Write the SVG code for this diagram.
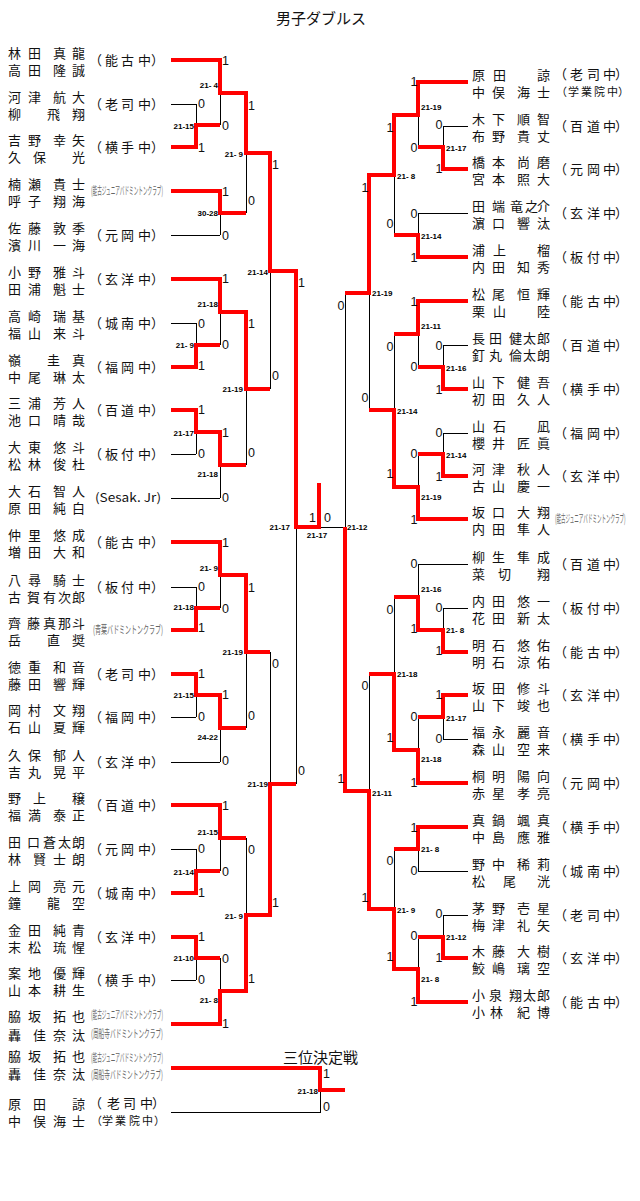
<svg xmlns="http://www.w3.org/2000/svg" width="640" height="1201" viewBox="0 0 640 1201">
<style>
text{font-family:"Noto Sans CJK JP","Noto Sans CJK SC",sans-serif;fill:#111}
.nm{font-size:13px}
.sc{font-size:13px}
.sc2{font-size:11px}
.sm{font-size:11px;fill:#666}
.pt{font-family:"Liberation Sans",Arial,sans-serif;font-size:12.5px}
.pr{font-family:"Liberation Sans",Arial,sans-serif;font-size:12.5px;text-anchor:end}
.sr{font-family:"Liberation Sans",Arial,sans-serif;font-size:8px;font-weight:bold;fill:#000}
.se{text-anchor:end}
.bk{stroke:#000;stroke-width:1;fill:none;shape-rendering:crispEdges}
.rd{stroke:#f00;stroke-width:4;fill:none;stroke-linejoin:miter;shape-rendering:crispEdges}
.ttl{font-size:15px}
</style>
<rect width="640" height="1201" fill="#fff"/>
<text class="ttl" x="276" y="24">男子ダブルス</text>
<text class="ttl" x="283" y="1063">三位決定戦</text>

<g id="connectors">
<path class="bk" d="M171 104H196M171 235H220M171 323H196M171 454H196M171 498H220M171 587H196M171 717H196M171 762H220M171 849H196M171 980H196
M196 104V147M220 60V125M220 191V235M246 93V213M196 323V367M220 279V345M196 410V454M220 432V498M246 312V465M270 153V389M196 587V630M220 542V608M196 674V717M220 695V762M246 575V728M196 849V893M220 805V871M196 937V980M220 958V1024M246 838V991M270 652V915M296 271V784
M296 527H345
M468 126H443M468 213H418M468 345H443M468 433H443M468 564H418M468 608H443M468 739H443M468 871H418M468 915H443
M443 126V169M418 82V147M418 213V257M394 115V235M443 345V389M418 301V367M443 433V476M418 454V519M394 334V487M369 175V410M443 608V652M418 564V630M443 695V739M418 717V783M394 597V750M418 827V871M443 915V958M418 937V1002M394 849V969M369 674V909M345 293V791
M171 1112H320V1090"/>
<path class="rd" d="M171 60H220V93H246V153H270V271H296V527H319V483
M171 147H196V125H220
M171 191H220V213H246
M171 279H220V312H246V389H270
M171 367H196V345H220
M171 410H196V432H220V465H246
M171 542H220V575H246V652H270
M171 630H196V608H220
M171 674H196V695H220V728H246
M171 805H220V838H246
M171 893H196V871H220
M171 937H196V958H220
M171 1024H220V991H246V915H270V784H296
M468 82H418V115H394V175H369V293H345
M468 169H443V147H418
M468 257H418V235H394
M468 301H418V334H394
M468 389H443V367H418
M468 476H443V454H418
M468 519H418V487H394V410H369
M468 652H443V630H418V597H394
M468 695H443V717H418
M468 783H418V750H394V674H369
M468 827H418V849H394
M468 958H443V937H418
M468 1002H418V969H394V909H369V791H345V527
M171 1068H320V1090H345"/>
</g>

<g id="scores">
<text class="sr se" x="194" y="129">21-15</text>
<text class="sr se" x="218" y="88">21- 4</text>
<text class="sr se" x="218" y="216">30-28</text>
<text class="sr se" x="243" y="157">21- 9</text>
<text class="sr se" x="194" y="348">21- 9</text>
<text class="sr se" x="218" y="307">21-18</text>
<text class="sr se" x="194" y="436">21-17</text>
<text class="sr se" x="218" y="477">21-18</text>
<text class="sr se" x="243" y="392">21-19</text>
<text class="sr se" x="268" y="275">21-14</text>
<text class="sr se" x="194" y="610">21-18</text>
<text class="sr se" x="218" y="571">21- 9</text>
<text class="sr se" x="194" y="698">21-15</text>
<text class="sr se" x="218" y="740">24-22</text>
<text class="sr se" x="243" y="655">21-19</text>
<text class="sr se" x="194" y="875">21-14</text>
<text class="sr se" x="218" y="835">21-15</text>
<text class="sr se" x="194" y="961">21-10</text>
<text class="sr se" x="218" y="1003">21- 8</text>
<text class="sr se" x="243" y="919">21- 9</text>
<text class="sr se" x="268" y="787">21-19</text>
<text class="sr se" x="290" y="530">21-17</text>
<text class="sr" x="317" y="538" text-anchor="middle">21-17</text>
<text class="sr se" x="318" y="1094">21-18</text>
<text class="sr" x="446" y="151">21-17</text>
<text class="sr" x="421" y="110">21-19</text>
<text class="sr" x="421" y="239">21-14</text>
<text class="sr" x="397" y="179">21- 8</text>
<text class="sr" x="446" y="371">21-16</text>
<text class="sr" x="421" y="329">21-11</text>
<text class="sr" x="446" y="458">21-14</text>
<text class="sr" x="421" y="500">21-19</text>
<text class="sr" x="397" y="414">21-14</text>
<text class="sr" x="372" y="296">21-19</text>
<text class="sr" x="446" y="633">21- 8</text>
<text class="sr" x="421" y="592">21-16</text>
<text class="sr" x="446" y="721">21-17</text>
<text class="sr" x="421" y="762">21-18</text>
<text class="sr" x="397" y="677">21-18</text>
<text class="sr" x="421" y="852">21- 8</text>
<text class="sr" x="446" y="940">21-12</text>
<text class="sr" x="421" y="982">21- 8</text>
<text class="sr" x="397" y="913">21- 9</text>
<text class="sr" x="372" y="796">21-11</text>
<text class="sr" x="347" y="530">21-12</text>
</g>

<g id="results">
<text class="pt" x="198" y="107.5">0</text><text class="pt" x="198" y="151.5">1</text>
<text class="pt" x="198" y="327.5">0</text><text class="pt" x="198" y="369.5">1</text>
<text class="pt" x="198" y="413.5">1</text><text class="pt" x="198" y="457.5">0</text>
<text class="pt" x="198" y="590.5">0</text><text class="pt" x="198" y="631.5">1</text>
<text class="pt" x="198" y="677.5">1</text><text class="pt" x="198" y="720.5">0</text>
<text class="pt" x="198" y="852.5">0</text><text class="pt" x="198" y="896.5">1</text>
<text class="pt" x="198" y="940.5">1</text><text class="pt" x="198" y="983.5">0</text>
<text class="pt" x="222" y="64.5">1</text><text class="pt" x="222" y="129.5">0</text>
<text class="pt" x="222" y="195.5">1</text><text class="pt" x="222" y="239.5">0</text>
<text class="pt" x="222" y="282.5">1</text><text class="pt" x="222" y="348.5">0</text>
<text class="pt" x="222" y="436.5">1</text><text class="pt" x="222" y="501.5">0</text>
<text class="pt" x="222" y="546.5">1</text><text class="pt" x="222" y="612.5">0</text>
<text class="pt" x="222" y="698.5">1</text><text class="pt" x="222" y="764.5">0</text>
<text class="pt" x="222" y="809.5">1</text><text class="pt" x="222" y="875.5">0</text>
<text class="pt" x="222" y="962.5">0</text><text class="pt" x="222" y="1027.5">1</text>
<text class="pt" x="248" y="109.5">1</text><text class="pt" x="248" y="204.5">0</text>
<text class="pt" x="248" y="327.5">1</text><text class="pt" x="248" y="456.5">0</text>
<text class="pt" x="248" y="591.5">1</text><text class="pt" x="248" y="719.5">0</text>
<text class="pt" x="248" y="853.5">0</text><text class="pt" x="248" y="982.5">1</text>
<text class="pt" x="272" y="168.5">1</text><text class="pt" x="272" y="379.5">0</text>
<text class="pt" x="272" y="667.5">0</text><text class="pt" x="272" y="906.5">1</text>
<text class="pt" x="298" y="286.5">1</text><text class="pt" x="298" y="774.5">0</text>
<text class="pr" x="316" y="521.5">1</text><text class="pt" x="324" y="521.5">0</text>
<text class="pt" x="323" y="1077.5">1</text><text class="pt" x="323" y="1110.5">0</text>
<text class="pr" x="442.5" y="128.5">0</text><text class="pr" x="442.5" y="172.5">1</text>
<text class="pr" x="442.5" y="349.5">0</text><text class="pr" x="442.5" y="393.5">1</text>
<text class="pr" x="442.5" y="436.5">0</text><text class="pr" x="442.5" y="480.5">1</text>
<text class="pr" x="442.5" y="611.5">0</text><text class="pr" x="442.5" y="654.5">1</text>
<text class="pr" x="442.5" y="698.5">1</text><text class="pr" x="442.5" y="742.5">0</text>
<text class="pr" x="442.5" y="917.5">0</text><text class="pr" x="442.5" y="961.5">1</text>
<text class="pr" x="417.5" y="85.5">1</text><text class="pr" x="417.5" y="151.5">0</text>
<text class="pr" x="417.5" y="217.5">0</text><text class="pr" x="417.5" y="261.5">1</text>
<text class="pr" x="417.5" y="305.5">1</text><text class="pr" x="417.5" y="370.5">0</text>
<text class="pr" x="417.5" y="457.5">0</text><text class="pr" x="417.5" y="523.5">1</text>
<text class="pr" x="417.5" y="567.5">0</text><text class="pr" x="417.5" y="632.5">1</text>
<text class="pr" x="417.5" y="720.5">0</text><text class="pr" x="417.5" y="786.5">1</text>
<text class="pr" x="417.5" y="831.5">1</text><text class="pr" x="417.5" y="874.5">0</text>
<text class="pr" x="417.5" y="939.5">0</text><text class="pr" x="417.5" y="1005.5">1</text>
<text class="pr" x="393.5" y="131.5">1</text><text class="pr" x="393.5" y="227.5">0</text>
<text class="pr" x="393.5" y="350.5">0</text><text class="pr" x="393.5" y="477.5">1</text>
<text class="pr" x="393.5" y="613.5">0</text><text class="pr" x="393.5" y="741.5">1</text>
<text class="pr" x="393.5" y="864.5">0</text><text class="pr" x="393.5" y="960.5">1</text>
<text class="pr" x="368.5" y="191.5">1</text><text class="pr" x="368.5" y="401.5">0</text>
<text class="pr" x="368.5" y="689.5">0</text><text class="pr" x="368.5" y="901.5">1</text>
<text class="pr" x="344.5" y="309.5">0</text><text class="pr" x="344.5" y="782.5">1</text>
</g>

<g id="team-L01"><text class="nm" x="8 28 53 72" y="58">林田真龍</text><text class="nm" x="8 28 53 72" y="75">高田隆誠</text><text class="sc" x="89 105 121 138 151" y="65">（能古中）</text></g>
<g id="team-L02"><text class="nm" x="8 28 53 72" y="102">河津航大</text><text class="nm" x="8 47 72" y="119">柳飛翔</text><text class="sc" x="89 105 121 138 151" y="109">（老司中）</text></g>
<g id="team-L03"><text class="nm" x="8 28 53 72" y="145">吉野幸矢</text><text class="nm" x="8 33 72" y="162">久保光</text><text class="sc" x="89 105 121 138 151" y="152">（横手中）</text></g>
<g id="team-L04"><text class="nm" x="8 28 53 72" y="189">楠瀬貴士</text><text class="nm" x="8 28 53 72" y="206">呼子翔海</text><text class="sm" transform="translate(91 195) scale(0.45 1)" textLength="160" lengthAdjust="spacingAndGlyphs">(能古ジュニアバドミントンクラブ)</text></g>
<g id="team-L05"><text class="nm" x="8 28 53 72" y="233">佐藤敦季</text><text class="nm" x="8 28 53 72" y="250">濱川一海</text><text class="sc" x="89 105 121 138 151" y="240">（元岡中）</text></g>
<g id="team-L06"><text class="nm" x="8 28 53 72" y="277">小野雅斗</text><text class="nm" x="8 28 53 72" y="294">田浦魁士</text><text class="sc" x="89 105 121 138 151" y="284">（玄洋中）</text></g>
<g id="team-L07"><text class="nm" x="8 28 53 72" y="321">高崎瑞基</text><text class="nm" x="8 28 53 72" y="338">福山来斗</text><text class="sc" x="89 105 121 138 151" y="328">（城南中）</text></g>
<g id="team-L08"><text class="nm" x="8 47 72" y="365">嶺圭真</text><text class="nm" x="8 28 53 72" y="382">中尾琳太</text><text class="sc" x="89 105 121 138 151" y="372">（福岡中）</text></g>
<g id="team-L09"><text class="nm" x="8 28 53 72" y="408">三浦芳人</text><text class="nm" x="8 28 53 72" y="425">池口晴哉</text><text class="sc" x="89 105 121 138 151" y="415">（百道中）</text></g>
<g id="team-L10"><text class="nm" x="8 28 53 72" y="452">大東悠斗</text><text class="nm" x="8 28 53 72" y="469">松林俊杜</text><text class="sc" x="89 105 121 138 151" y="459">（板付中）</text></g>
<g id="team-L11"><text class="nm" x="8 28 53 72" y="496">大石智人</text><text class="nm" x="8 28 53 72" y="513">原田純白</text><text x="95" y="502" font-family="Liberation Serif" font-size="12" fill="#556" textLength="66" lengthAdjust="spacingAndGlyphs">(Sesak. Jr)</text></g>
<g id="team-L12"><text class="nm" x="8 28 53 72" y="540">仲里悠成</text><text class="nm" x="8 28 53 72" y="557">増田大和</text><text class="sc" x="89 105 121 138 151" y="547">（能古中）</text></g>
<g id="team-L13"><text class="nm" x="8 28 53 72" y="585">八尋騎士</text><text class="nm" x="8 27 43 58 72" y="602">古賀有次郎</text><text class="sc" x="89 105 121 138 151" y="592">（板付中）</text></g>
<g id="team-L14"><text class="nm" x="8 27 43 58 72" y="628">齊藤真那斗</text><text class="nm" x="8 47 72" y="645">岳直奨</text><text class="sm" transform="translate(93 634) scale(0.5 1)" textLength="140" lengthAdjust="spacingAndGlyphs">(青葉バドミントンクラブ)</text></g>
<g id="team-L15"><text class="nm" x="8 28 53 72" y="672">徳重和音</text><text class="nm" x="8 28 53 72" y="689">藤田響輝</text><text class="sc" x="89 105 121 138 151" y="679">（老司中）</text></g>
<g id="team-L16"><text class="nm" x="8 28 53 72" y="715">岡村文翔</text><text class="nm" x="8 28 53 72" y="732">石山夏輝</text><text class="sc" x="89 105 121 138 151" y="722">（福岡中）</text></g>
<g id="team-L17"><text class="nm" x="8 28 53 72" y="760">久保郁人</text><text class="nm" x="8 28 53 72" y="777">吉丸晃平</text><text class="sc" x="89 105 121 138 151" y="767">（玄洋中）</text></g>
<g id="team-L18"><text class="nm" x="8 33 72" y="803">野上穣</text><text class="nm" x="8 28 53 72" y="820">福満泰正</text><text class="sc" x="89 105 121 138 151" y="810">（百道中）</text></g>
<g id="team-L19"><text class="nm" x="8 27 43 58 72" y="847">田口蒼太朗</text><text class="nm" x="8 33 53 72" y="864">林賢士朗</text><text class="sc" x="89 105 121 138 151" y="854">（元岡中）</text></g>
<g id="team-L20"><text class="nm" x="8 28 53 72" y="891">上岡亮元</text><text class="nm" x="8 47 72" y="908">鐘龍空</text><text class="sc" x="89 105 121 138 151" y="898">（城南中）</text></g>
<g id="team-L21"><text class="nm" x="8 28 53 72" y="935">金田純青</text><text class="nm" x="8 28 53 72" y="952">末松琉惺</text><text class="sc" x="89 105 121 138 151" y="942">（玄洋中）</text></g>
<g id="team-L22"><text class="nm" x="8 28 53 72" y="978">案地優輝</text><text class="nm" x="8 28 53 72" y="995">山本耕生</text><text class="sc" x="89 105 121 138 151" y="985">（横手中）</text></g>
<g id="team-L23"><text class="nm" x="8 28 53 72" y="1021">脇坂拓也</text><text class="nm" x="8 33 53 72" y="1040">轟佳奈汰</text><text class="sm" transform="translate(91 1019) scale(0.45 1)" textLength="160" lengthAdjust="spacingAndGlyphs">(能古ジュニアバドミントンクラブ)</text><text class="sm" transform="translate(91 1038) scale(0.5 1)" textLength="144" lengthAdjust="spacingAndGlyphs">(周船寺バドミントンクラブ)</text></g>

<g id="team-3rd-A"><text class="nm" x="8 28 53 72" y="1061">脇坂拓也</text><text class="nm" x="8 33 53 72" y="1079">轟佳奈汰</text><text class="sm" transform="translate(91 1062) scale(0.45 1)" textLength="160" lengthAdjust="spacingAndGlyphs">(能古ジュニアバドミントンクラブ)</text><text class="sm" transform="translate(91 1079) scale(0.5 1)" textLength="144" lengthAdjust="spacingAndGlyphs">(周船寺バドミントンクラブ)</text></g>
<g id="team-3rd-B"><text class="nm" x="8 33 72" y="1109">原田諒</text><text class="nm" x="8 33 53 72" y="1126">中俣海士</text><text class="sc" x="89 107 123 140 152" y="1108">（老司中）</text><text class="sc2" x="91 102 115 129 142 154" y="1125">（学業院中）</text></g>

<g id="team-R01"><text class="nm" x="472 493 537" y="80">原田諒</text><text class="nm" x="472 492 517 537" y="97">中俣海士</text><text class="sc" x="554 570 587 603 615" y="79">（老司中）</text><text class="sc2" x="556 568 581 594 607 618" y="96">（学業院中）</text></g>
<g id="team-R02"><text class="nm" x="472 492 517 537" y="124">木下順智</text><text class="nm" x="472 492 517 537" y="141">布野貴丈</text><text class="sc" x="554 570 587 603 615" y="131">（百道中）</text></g>
<g id="team-R03"><text class="nm" x="472 492 517 537" y="167">橋本尚磨</text><text class="nm" x="472 492 517 537" y="184">宮本照大</text><text class="sc" x="554 570 587 603 615" y="174">（元岡中）</text></g>
<g id="team-R04"><text class="nm" x="472 492 510 525 537" y="211">田端竜之介</text><text class="nm" x="472 492 517 537" y="228">濵口響汰</text><text class="sc" x="554 570 587 603 615" y="218">（玄洋中）</text></g>
<g id="team-R05"><text class="nm" x="472 493 537" y="255">浦上榴</text><text class="nm" x="472 492 517 537" y="272">内田知秀</text><text class="sc" x="554 570 587 603 615" y="262">（板付中）</text></g>
<g id="team-R06"><text class="nm" x="472 492 517 537" y="299">松尾恒輝</text><text class="nm" x="472 493 537" y="316">栗山陸</text><text class="sc" x="554 570 587 603 615" y="306">（能古中）</text></g>
<g id="team-R07"><text class="nm" x="472 489 509 523 537" y="343">長田健太郎</text><text class="nm" x="472 489 509 523 537" y="360">釘丸倫太朗</text><text class="sc" x="554 570 587 603 615" y="350">（百道中）</text></g>
<g id="team-R08"><text class="nm" x="472 492 517 537" y="387">山下健吾</text><text class="nm" x="472 492 517 537" y="404">初田久人</text><text class="sc" x="554 570 587 603 615" y="394">（横手中）</text></g>
<g id="team-R09"><text class="nm" x="472 493 537" y="431">山石凪</text><text class="nm" x="472 492 517 537" y="448">櫻井匠眞</text><text class="sc" x="554 570 587 603 615" y="438">（福岡中）</text></g>
<g id="team-R10"><text class="nm" x="472 492 517 537" y="474">河津秋人</text><text class="nm" x="472 492 517 537" y="491">古山慶一</text><text class="sc" x="554 570 587 603 615" y="481">（玄洋中）</text></g>
<g id="team-R11"><text class="nm" x="472 492 517 537" y="517">坂口大翔</text><text class="nm" x="472 492 517 537" y="534">内田隼人</text><text class="sm" transform="translate(555 523) scale(0.45 1)" textLength="157" lengthAdjust="spacingAndGlyphs">(能古ジュニアバドミントンクラブ)</text></g>
<g id="team-R12"><text class="nm" x="472 492 517 537" y="562">柳生隼成</text><text class="nm" x="472 498 537" y="579">菜切翔</text><text class="sc" x="554 570 587 603 615" y="569">（百道中）</text></g>
<g id="team-R13"><text class="nm" x="472 492 517 537" y="606">内田悠一</text><text class="nm" x="472 492 517 537" y="623">花田新太</text><text class="sc" x="554 570 587 603 615" y="613">（板付中）</text></g>
<g id="team-R14"><text class="nm" x="472 492 517 537" y="650">明石悠佑</text><text class="nm" x="472 492 517 537" y="667">明石涼佑</text><text class="sc" x="554 570 587 603 615" y="657">（能古中）</text></g>
<g id="team-R15"><text class="nm" x="472 492 517 537" y="693">坂田修斗</text><text class="nm" x="472 492 517 537" y="710">山下竣也</text><text class="sc" x="554 570 587 603 615" y="700">（玄洋中）</text></g>
<g id="team-R16"><text class="nm" x="472 492 517 537" y="737">福永麗音</text><text class="nm" x="472 492 517 537" y="754">森山空来</text><text class="sc" x="554 570 587 603 615" y="744">（横手中）</text></g>
<g id="team-R17"><text class="nm" x="472 492 517 537" y="781">桐明陽向</text><text class="nm" x="472 492 517 537" y="798">赤星孝亮</text><text class="sc" x="554 570 587 603 615" y="788">（元岡中）</text></g>
<g id="team-R18"><text class="nm" x="472 492 517 537" y="825">真鍋颯真</text><text class="nm" x="472 492 517 537" y="842">中島應雅</text><text class="sc" x="554 570 587 603 615" y="832">（横手中）</text></g>
<g id="team-R19"><text class="nm" x="472 492 517 537" y="869">野中稀莉</text><text class="nm" x="472 503 537" y="886">松尾洸</text><text class="sc" x="554 570 587 603 615" y="876">（城南中）</text></g>
<g id="team-R20"><text class="nm" x="472 492 517 537" y="913">茅野壱星</text><text class="nm" x="472 492 517 537" y="930">梅津礼矢</text><text class="sc" x="554 570 587 603 615" y="920">（老司中）</text></g>
<g id="team-R21"><text class="nm" x="472 492 517 537" y="956">木藤大樹</text><text class="nm" x="472 492 517 537" y="973">鮫嶋璃空</text><text class="sc" x="554 570 587 603 615" y="963">（玄洋中）</text></g>
<g id="team-R22"><text class="nm" x="472 489 509 523 537" y="1000">小泉翔太郎</text><text class="nm" x="472 490 517 537" y="1017">小林紀博</text><text class="sc" x="554 570 587 603 615" y="1007">（能古中）</text></g>
</svg>
